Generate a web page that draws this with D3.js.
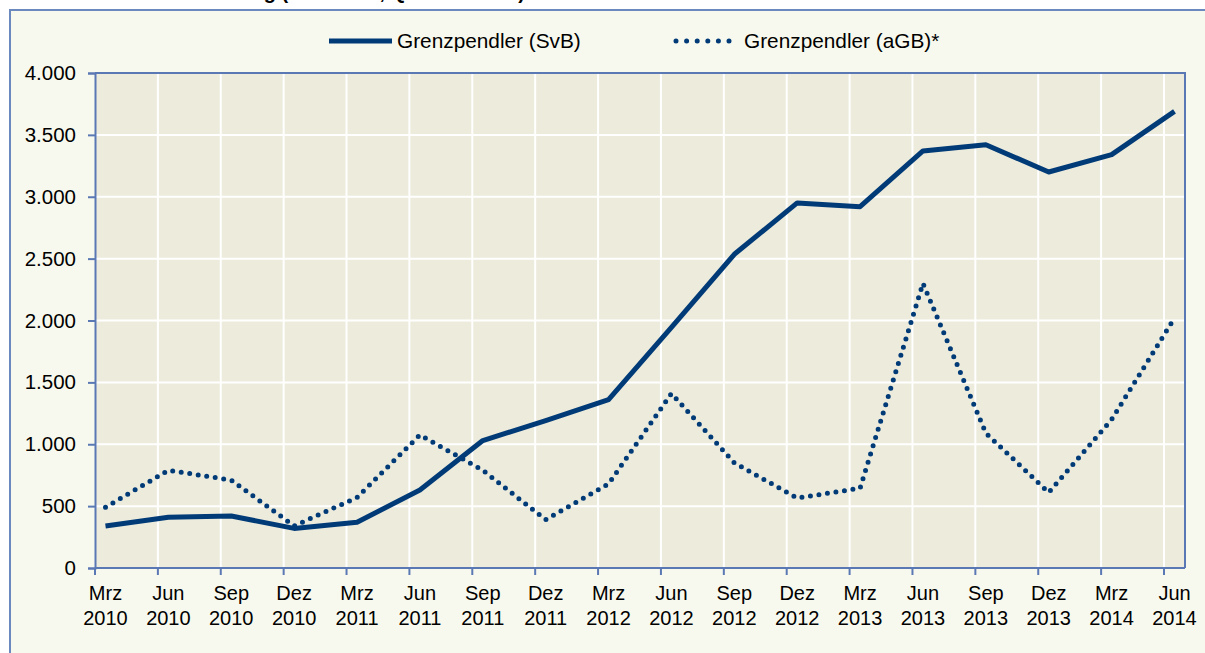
<!DOCTYPE html>
<html>
<head>
<meta charset="utf-8">
<script src="https://cdn.jsdelivr.net/npm/d3@7"></script>
<style>
  body { margin: 0; background: #ffffff; }
  text { font-family: "Liberation Sans", Arial, sans-serif; }
</style>
</head>
<body>
<script>
// DATEN
const quartale = ["Mrz 2010", "Jun 2010", "Sep 2010", "Dez 2010", "Mrz 2011", "Jun 2011", "Sep 2011", "Dez 2011",
  "Mrz 2012", "Jun 2012", "Sep 2012", "Dez 2012", "Mrz 2013", "Jun 2013", "Sep 2013", "Dez 2013", "Mrz 2014", "Jun 2014"];
const svb = [340, 410, 420, 320, 370, 630, 1030, 1190, 1360, 1945, 2535, 2950, 2920, 3370, 3420, 3200, 3340, 3690];
const agb = [490, 790, 710, 340, 570, 1075, 790, 390, 680, 1410, 850, 565, 645, 2300, 1090, 610, 1200, 2020];
const yTicks = [0, 500, 1000, 1500, 2000, 2500, 3000, 3500, 4000];
const serien = [
  { name: "Grenzpendler (SvB)", werte: svb, dash: null },
  { name: "Grenzpendler (aGB)*", werte: agb, dash: "0 8.6" }
];

// CADRE
const largeur = 1205;
const hauteur = 653;
const blau = "#003b78";
const achse = "#5a78b4";

const svg = d3.select("body")
  .append("svg")
  .attr("width", largeur)
  .attr("height", hauteur);

// Titel (oben abgeschnitten, wie im Original)
svg.append("text")
  .attr("x", 525)
  .attr("y", -1)
  .attr("text-anchor", "end")
  .style("font-size", "20px")
  .style("font-weight", "bold")
  .attr("fill", "#000")
  .text("Entwicklung (Personen, Quartalsende)");

// Rahmen
svg.append("rect")
  .attr("x", 10)
  .attr("y", 10)
  .attr("width", 1230)
  .attr("height", 700)
  .attr("fill", "#f8f9ee")
  .attr("stroke", "#6b88bf")
  .attr("stroke-width", 2);

// Skalen
const gauche = 95, droite = 1185, haut = 73, bas = 568;
const x = d3.scalePoint()
  .domain(quartale)
  .range([gauche + 10.5, droite - 10.5]);
const y = d3.scaleLinear()
  .domain([0, 4000])
  .range([bas, haut]);

// Zeichenfläche
svg.append("rect")
  .attr("x", gauche)
  .attr("y", haut)
  .attr("width", droite - gauche)
  .attr("height", bas - haut)
  .attr("fill", "#edebdc");

// Gitternetz
const gitter = svg.append("g");
gitter.selectAll(".hgrid")
  .data(yTicks.filter(t => t > 0))
  .join("line")
  .attr("x1", gauche).attr("x2", droite)
  .attr("y1", d => y(d)).attr("y2", d => y(d))
  .attr("stroke", "#ffffff")
  .attr("stroke-width", 2);
gitter.selectAll(".vgrid")
  .data(quartale.slice(1))
  .join("line")
  .attr("x1", d => x(d) - 10.5).attr("x2", d => x(d) - 10.5)
  .attr("y1", haut).attr("y2", bas)
  .attr("stroke", "#ffffff")
  .attr("stroke-width", 2);

// Achsen
const fmt = d3.formatLocale({ decimal: ",", thousands: ".", grouping: [3], currency: ["", "€"] }).format(",d");
const yAxe = svg.append("g")
  .attr("transform", `translate(${gauche},0)`)
  .call(d3.axisLeft(y).tickValues(yTicks).tickSize(7).tickPadding(12).tickFormat(fmt));
yAxe.select(".domain").attr("stroke", achse).attr("stroke-width", 2);
yAxe.selectAll(".tick line").attr("stroke", achse).attr("stroke-width", 2);
yAxe.selectAll(".tick text")
  .attr("fill", "#000")
  .style("font-size", "20.5px")
  .style("font-family", "'Liberation Sans', Arial, sans-serif");

// obere + rechte Kante
svg.append("path")
  .attr("d", `M${gauche},${haut}H${droite}V${bas}`)
  .attr("fill", "none")
  .attr("stroke", achse)
  .attr("stroke-width", 2);

const xAxe = svg.append("g");
xAxe.append("line")
  .attr("x1", gauche).attr("x2", droite)
  .attr("y1", bas).attr("y2", bas)
  .attr("stroke", achse).attr("stroke-width", 2);
xAxe.selectAll(".xtick")
  .data(quartale)
  .join("line")
  .attr("x1", d => x(d) - 10.5).attr("x2", d => x(d) - 10.5)
  .attr("y1", bas).attr("y2", bas + 7)
  .attr("stroke", achse).attr("stroke-width", 2);
const xLab = xAxe.selectAll(".xlab")
  .data(quartale)
  .join("text")
  .attr("text-anchor", "middle")
  .attr("fill", "#000")
  .style("font-size", "20px");
xLab.append("tspan")
  .attr("x", d => x(d))
  .attr("y", bas + 32)
  .text(d => d.split(" ")[0]);
xLab.append("tspan")
  .attr("x", d => x(d))
  .attr("y", bas + 57)
  .text(d => d.split(" ")[1]);

// Linien
const linie = d3.line()
  .x((d, i) => x(quartale[i]))
  .y(d => y(d));

svg.selectAll(".serie")
  .data(serien)
  .join("path")
  .attr("d", d => linie(d.werte))
  .attr("fill", "none")
  .attr("stroke", blau)
  .attr("stroke-width", 5)
  .attr("stroke-linecap", d => d.dash ? "round" : "butt")
  .attr("stroke-linejoin", "round")
  .attr("stroke-dasharray", d => d.dash);

// Legende
const legX = [329, 676];
const leg = svg.selectAll(".leg")
  .data(serien)
  .join("g")
  .attr("transform", (d, i) => `translate(${legX[i]},41)`);
leg.append("line")
  .attr("x1", 0).attr("x2", (d, i) => i === 0 ? 63 : 54)
  .attr("y1", 0).attr("y2", 0)
  .attr("stroke", blau)
  .attr("stroke-width", 5)
  .attr("stroke-linecap", d => d.dash ? "round" : "butt")
  .attr("stroke-dasharray", d => d.dash ? "0 10.6" : null);
leg.append("text")
  .attr("x", 68)
  .attr("y", 7)
  .attr("fill", "#000")
  .style("font-size", "20.8px")
  .text(d => d.name);
</script>
</body>
</html>
